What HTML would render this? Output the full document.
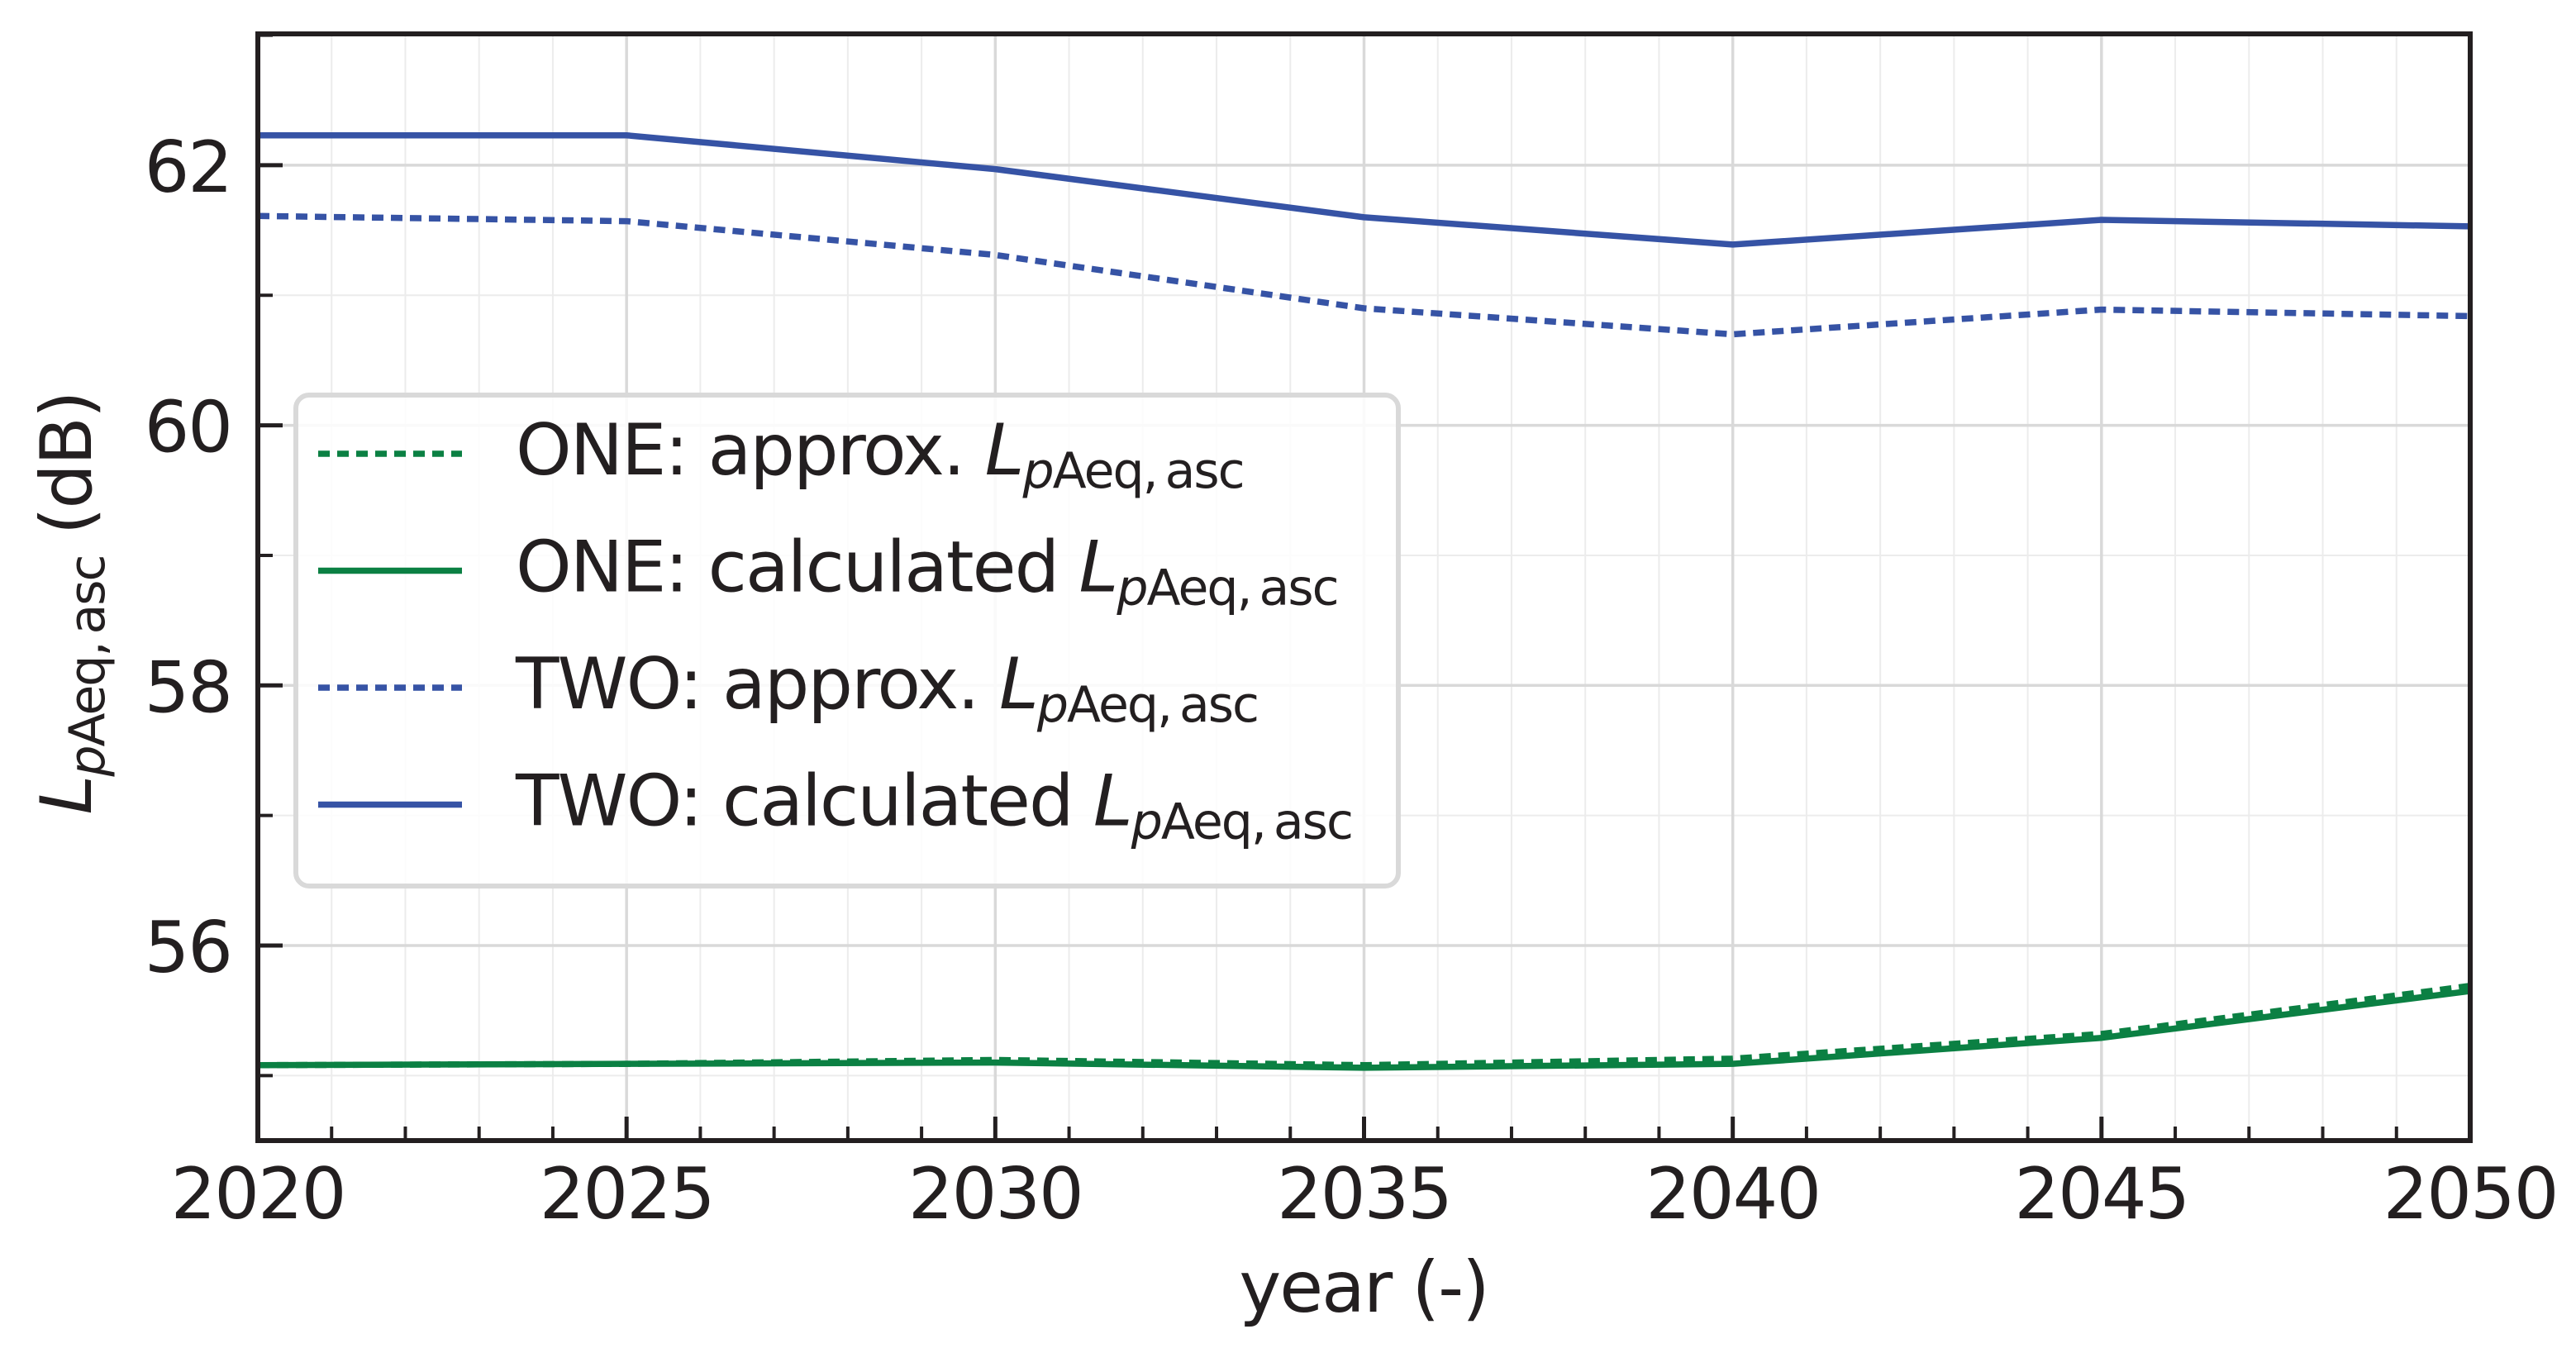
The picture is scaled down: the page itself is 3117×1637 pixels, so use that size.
<!DOCTYPE html>
<html><head><meta charset="utf-8"><style>
html,body{margin:0;padding:0;background:#fff}
svg{display:block}
text{font-family:"DejaVu Sans","Liberation Sans",sans-serif;fill:#231f20;letter-spacing:-2px}
</style></head><body>
<svg id="chart" width="3117" height="1637" viewBox="0 0 3117 1637" xmlns="http://www.w3.org/2000/svg">
<g id="grid"></g>
<g id="series"></g>
<g id="axes"></g>
<g id="legend"></g>
</svg>
<script>
const years = [2020, 2025, 2030, 2035, 2040, 2045, 2050];
const oneApprox = [55.08, 55.09, 55.12, 55.08, 55.13, 55.32, 55.69];
const oneCalc = [55.08, 55.09, 55.10, 55.06, 55.09, 55.29, 55.65];
const twoApprox = [61.61, 61.57, 61.31, 60.90, 60.70, 60.89, 60.84];
const twoCalc = [62.23, 62.23, 61.97, 61.60, 61.39, 61.58, 61.53];
const xTicks = ["2020", "2025", "2030", "2035", "2040", "2045", "2050"];
const yTicks = ["56", "58", "60", "62"];

const NS = "http://www.w3.org/2000/svg";
const X0 = 312, X1 = 2989, Y0 = 41, Y1 = 1380;
const xMin = 2020, xMax = 2050, yMin = 54.5, yMax = 63.01;
function xs(v){ return X0 + (v - xMin) / (xMax - xMin) * (X1 - X0); }
function ys(v){ return Y1 - (v - yMin) / (yMax - yMin) * (Y1 - Y0); }
function mk(tag, attrs, parent){
  const e = document.createElementNS(NS, tag);
  for (const k in attrs) e.setAttribute(k, attrs[k]);
  parent.appendChild(e); return e;
}
const grid = document.getElementById('grid');
const axes = document.getElementById('axes');
const series = document.getElementById('series');
const legend = document.getElementById('legend');

for (let yr = 2021; yr < 2050; yr++) {
  if (yr % 5 === 0) continue;
  const l = mk('line', {x1: xs(yr), x2: xs(yr), y1: Y0, y2: Y1, stroke: '#ececec', 'stroke-width': 2}, grid);
  
  
}
for (let v = 55; v <= 63; v += 2) {
  const l = mk('line', {x1: X0, x2: X1, y1: ys(v), y2: ys(v), stroke: '#ececec', 'stroke-width': 2}, grid);
  
  
}
xTicks.forEach(t => {
  const l = mk('line', {x1: xs(+t), x2: xs(+t), y1: Y0, y2: Y1, stroke: '#d9d9d9', 'stroke-width': 3.5}, grid);
  
  
});
yTicks.forEach(t => {
  const l = mk('line', {x1: X0, x2: X1, y1: ys(+t), y2: ys(+t), stroke: '#d9d9d9', 'stroke-width': 3.5}, grid);
  
  
});

function drawLine(vals, color, dashed, name){
  const pts = years.map((y, i) => xs(y) + ',' + ys(vals[i])).join(' ');
  const a = {points: pts, fill: 'none', stroke: color, 'stroke-width': 7.5, 'stroke-linejoin': 'round'};
  if (dashed) a['stroke-dasharray'] = '14 9';
  const p = mk('polyline', a, series);
  
  
}
const GREEN = '#0b8043', BLUE = '#3653a5';
drawLine(oneApprox, GREEN, true, 'one-approx-line');
drawLine(oneCalc, GREEN, false, 'one-calculated-line');
drawLine(twoApprox, BLUE, true, 'two-approx-line');
drawLine(twoCalc, BLUE, false, 'two-calculated-line');

for (let yr = 2020; yr <= 2050; yr++) {
  const major = yr % 5 === 0;
  const l = mk('line', {x1: xs(yr), x2: xs(yr), y1: Y1, y2: Y1 - (major ? 29 : 17), stroke: '#231f20', 'stroke-width': major ? 5 : 4}, axes);
  
  
}
for (let v = 55; v <= 63; v++) {
  const major = v % 2 === 0;
  const l = mk('line', {x1: X0, x2: X0 + (major ? 30 : 18), y1: ys(v), y2: ys(v), stroke: '#231f20', 'stroke-width': major ? 5 : 4}, axes);
  
  
}
xTicks.forEach(t => {
  const e = mk('text', {x: xs(+t), y: 1474, 'font-size': 86, 'text-anchor': 'middle'}, axes);
  e.textContent = t;
  
  
});
yTicks.forEach(t => {
  const e = mk('text', {x: 280, y: ys(+t) + 32, 'font-size': 86, 'text-anchor': 'end'}, axes);
  e.textContent = t;
  
  
});
const fr = mk('rect', {x: X0, y: Y0, width: X1 - X0, height: Y1 - Y0, fill: 'none', stroke: '#231f20', 'stroke-width': 6}, axes);



const xt = mk('text', {x: 1650, y: 1587, 'font-size': 86, 'text-anchor': 'middle'}, axes);
xt.textContent = 'year (-)';



const yt = mk('text', {x: 0, y: 0, 'font-size': 86, 'text-anchor': 'middle', transform: 'translate(110,730) rotate(-90)'}, axes);


{
  const a = mk('tspan', {'font-style': 'italic'}, yt); a.textContent = 'L';
  const b = mk('tspan', {'font-style': 'italic', 'font-size': 60, dy: 16}, yt); b.textContent = 'p';
  const c = mk('tspan', {'font-size': 60}, yt); c.textContent = 'Aeq,\u2009asc';
  const d = mk('tspan', {dy: -16}, yt); d.textContent = ' (dB)';
}

const lb = mk('rect', {x: 358, y: 478, width: 1334, height: 594, rx: 16, fill: 'rgba(255,255,255,0.85)', stroke: '#d9d9d9', 'stroke-width': 6}, legend);


const entries = [
  ['ONE: approx. ', GREEN, true, 'legend-entry-one-approx'],
  ['ONE: calculated ', GREEN, false, 'legend-entry-one-calculated'],
  ['TWO: approx. ', BLUE, true, 'legend-entry-two-approx'],
  ['TWO: calculated ', BLUE, false, 'legend-entry-two-calculated']
];
entries.forEach((en, i) => {
  const cy = 549 + i * 141.5;
  const g = mk('g', {}, legend);
  
  
  const a = {x1: 385, x2: 559, y1: cy, y2: cy, stroke: en[1], 'stroke-width': 7.5};
  if (en[2]) a['stroke-dasharray'] = '14 9';
  mk('line', a, g);
  const t = mk('text', {x: 624, y: cy + 25, 'font-size': 86}, g);
  const s0 = mk('tspan', {}, t); s0.textContent = en[0];
  const s1 = mk('tspan', {'font-style': 'italic'}, t); s1.textContent = 'L';
  const s2 = mk('tspan', {'font-style': 'italic', 'font-size': 60, dy: 16}, t); s2.textContent = 'p';
  const s3 = mk('tspan', {'font-size': 60}, t); s3.textContent = 'Aeq,\u2009asc';
});
</script>
</body></html>
